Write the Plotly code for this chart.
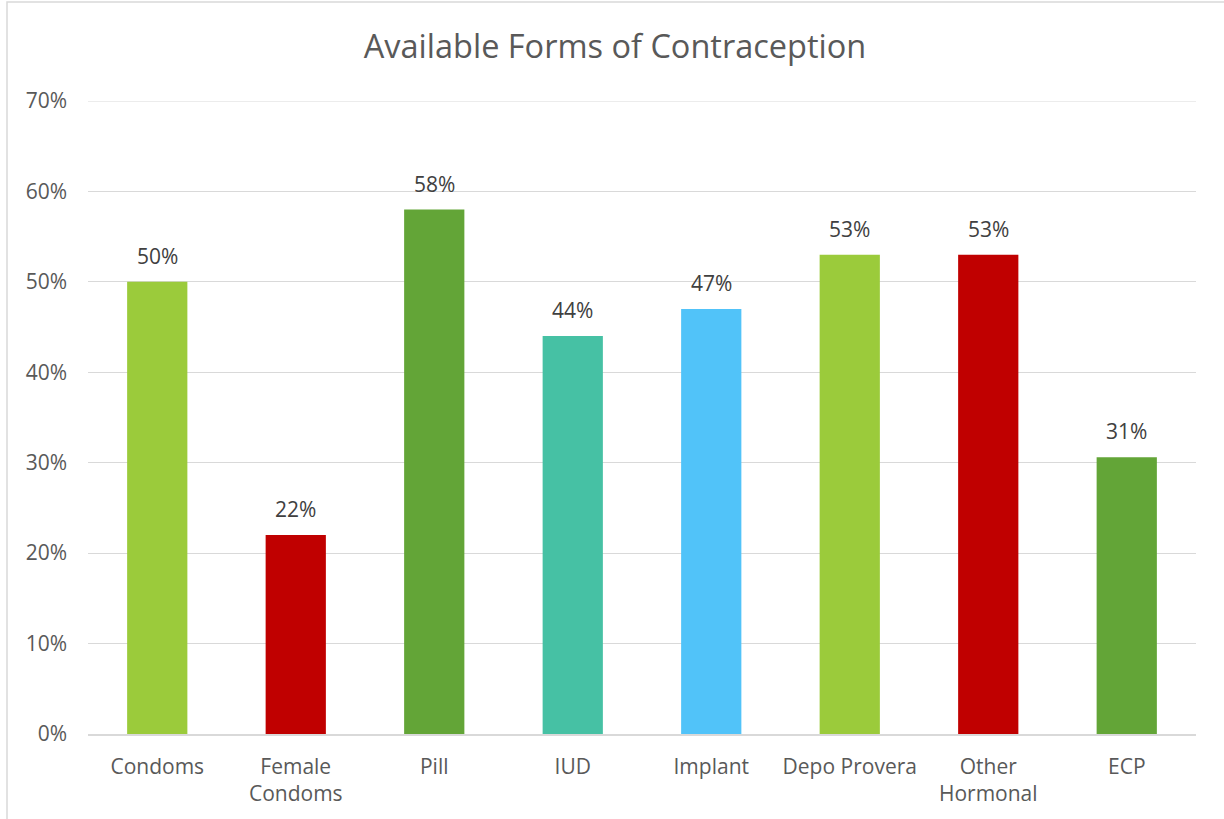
import plotly.graph_objects as go

categories = ["Condoms", "Female<br>Condoms", "Pill", "IUD", "Implant", "Depo Provera", "Other<br>Hormonal", "ECP"]
values = [50, 22, 58, 44, 47, 53, 53, 30.6]
colors = ["#9BCB3B", "#C00000", "#63A537", "#46C1A4", "#51C3F9", "#9BCB3B", "#C00000", "#63A537"]
ytick_vals = [0, 10, 20, 30, 40, 50, 60, 70]
ytick_text = ["0%", "10%", "20%", "30%", "40%", "50%", "60%", "70%"]

labels = [f"{int(v + 0.5)}%" for v in values]

fig = go.Figure()
fig.add_trace(go.Bar(
    x=categories, y=values, marker_color=colors, marker_line_width=0,
    showlegend=False, hoverinfo="skip",
))
for c, v, t in zip(categories, values, labels):
    fig.add_annotation(x=c, y=v, text=t, showarrow=False, yshift=26,
                       font=dict(family="Open Sans", size=21, color="#404040"))

px0, px1, py0, py1 = 88, 1196, 734, 101
def paper_x(px):
    return (px - px0) / (px1 - px0)
def paper_y(py):
    return (py0 - py) / (py0 - py1)

fig.add_shape(type="rect", xref="paper", yref="paper",
              x0=paper_x(7), x1=paper_x(1232), y0=paper_y(827), y1=paper_y(2),
              line=dict(color="#D9D9D9", width=1.5), fillcolor="rgba(0,0,0,0)", layer="below")
# top gridline (at the edge of the plot area)
fig.add_shape(type="line", xref="paper", yref="y", x0=0, x1=1,
              y0=ytick_vals[-1], y1=ytick_vals[-1],
              line=dict(color="#D9D9D9", width=1), layer="below")

fig.update_layout(
    width=1224, height=819,
    margin=dict(l=88, r=28, t=101, b=85),
    paper_bgcolor="white", plot_bgcolor="white",
    bargap=0.565,
    title=dict(text="Available Forms of Contraception", x=615 / 1224, xref="container", xanchor="center",
               y=1 - 47 / 819, yanchor="middle", yref="container",
               font=dict(family="Open Sans", size=32.5, color="#595959")),
    font=dict(family="Open Sans", size=21, color="#595959"),
    xaxis=dict(showgrid=False, showline=True, linecolor="#D9D9D9", linewidth=1.5,
               ticks="", tickfont=dict(size=21, color="#595959"), ticklabelstandoff=13),
    yaxis=dict(range=[0, 70], tickvals=ytick_vals, ticktext=ytick_text,
               showgrid=True, gridcolor="#D9D9D9", gridwidth=1, zeroline=False,
               showline=False, ticks="", ticklabelstandoff=20,
               tickfont=dict(size=21, color="#595959")),
)

fig.write_html("out.html")
